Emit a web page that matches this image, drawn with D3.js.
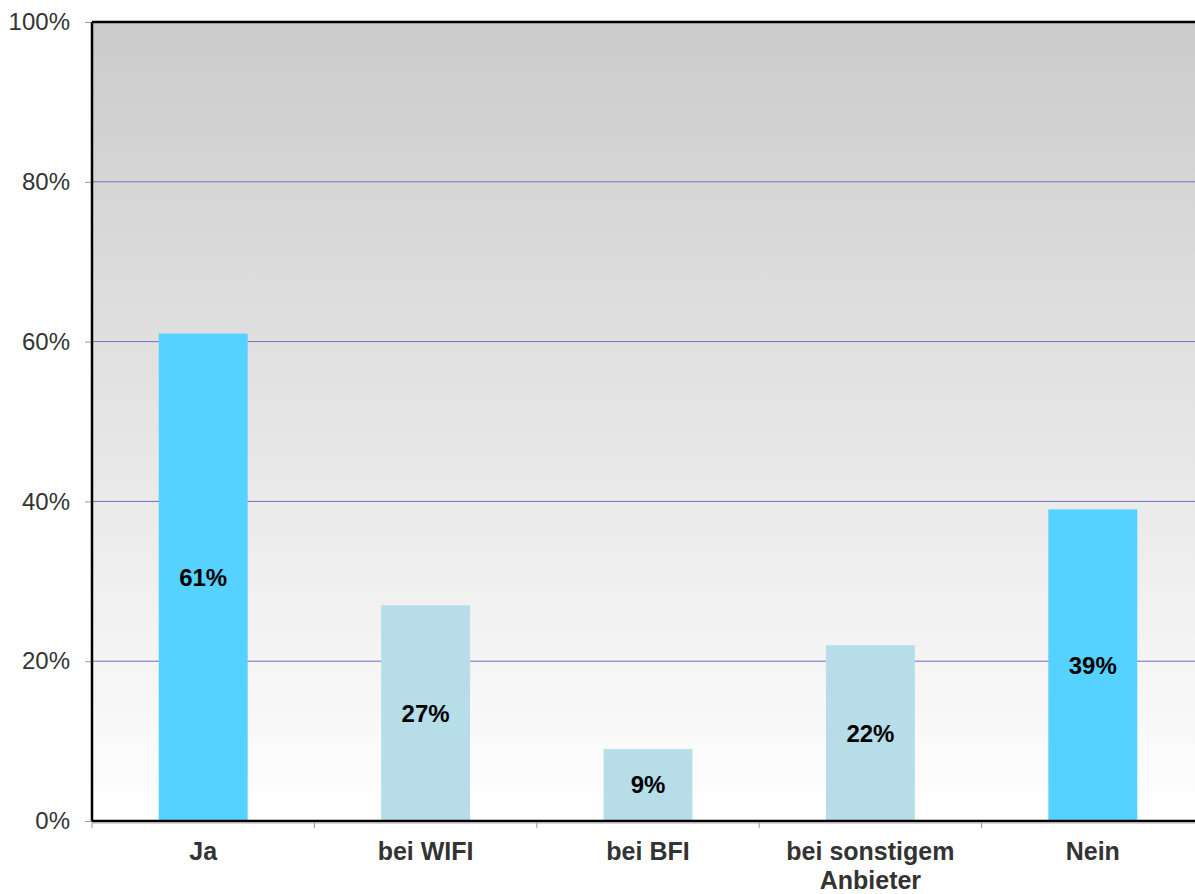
<!DOCTYPE html>
<html><head><meta charset="utf-8">
<script src="https://cdn.jsdelivr.net/npm/d3@7"></script>
<style>body{margin:0;background:#fff;} svg{display:block;font-family:"Liberation Sans",Arial,sans-serif;}</style>
</head><body>
<svg id="c" width="1195" height="894"></svg>
<script>
const categories = ["Ja", "bei WIFI", "bei BFI", "bei sonstigem Anbieter", "Nein"];
const values = [61, 27, 9, 22, 39];
const highlight = [true, false, false, false, true];
const yTicks = [0, 20, 40, 60, 80, 100];

const svg = d3.select("#c");
const L = 92, T = 22, B = 821, W = 1112;
const x = d3.scaleBand().domain(categories).range([L, L + W]).paddingInner(0.6).paddingOuter(0.3);
const xb = d3.scaleBand().domain(categories).range([L, L + W]);
const y = d3.scaleLinear().domain([0, 100]).range([B, T]);

const defs = svg.append("defs");
const g = defs.append("linearGradient").attr("id", "bg").attr("x1", 0).attr("y1", 0).attr("x2", 0).attr("y2", 1);
g.append("stop").attr("offset", "0%").attr("stop-color", "#cbcbcb");
g.append("stop").attr("offset", "100%").attr("stop-color", "#ffffff");
svg.append("rect").attr("x", L).attr("y", T).attr("width", W).attr("height", B - T).attr("fill", "url(#bg)");

// gridlines
svg.append("g").selectAll("line").data(yTicks.filter(d => d > 0 && d < 100)).join("line")
  .attr("x1", L).attr("x2", L + W).attr("y1", d => y(d)).attr("y2", d => y(d))
  .attr("stroke", "#6f6fc0").attr("stroke-width", 1);

// bars
svg.append("g").selectAll("rect").data(categories).join("rect")
  .attr("x", d => x(d)).attr("width", x.bandwidth())
  .attr("y", (d, i) => y(values[i])).attr("height", (d, i) => B - y(values[i]))
  .attr("fill", (d, i) => highlight[i] ? "#55d2ff" : "#b6dde8");

// value labels
svg.append("g").selectAll("text").data(categories).join("text")
  .attr("x", d => x(d) + x.bandwidth() / 2)
  .attr("y", (d, i) => (y(values[i]) + B) / 2)
  .attr("dy", "0.35em").attr("text-anchor", "middle")
  .attr("font-size", 24).attr("font-weight", "bold").attr("fill", "#000")
  .text((d, i) => values[i] + "%");

// y axis
const ya = svg.append("g").attr("transform", `translate(${L},0)`)
  .call(d3.axisLeft(y).tickValues(yTicks).tickFormat(d => d + "%").tickSize(7).tickPadding(15));
ya.select(".domain").remove();
ya.selectAll(".tick line").attr("stroke", "#999");
ya.selectAll(".tick text").attr("font-size", 24).attr("fill", "#333").attr("font-family", "Liberation Sans, Arial, sans-serif");

// x axis ticks
const xa = svg.append("g").attr("transform", `translate(0,${B})`);
xa.selectAll("line").data(categories).join("line")
  .attr("x1", d => xb(d)).attr("x2", d => xb(d)).attr("y1", 0).attr("y2", 7)
  .attr("stroke", "#999");
xa.selectAll("g").data(categories).join("g")
  .each(function (d) {
    const cx = xb(d) + xb.bandwidth() / 2;
    const lines = d === "bei sonstigem Anbieter" ? ["bei sonstigem", "Anbieter"] : [d];
    d3.select(this).selectAll("text").data(lines).join("text")
      .attr("x", cx).attr("y", (s, i) => 39 + i * 29)
      .attr("text-anchor", "middle").attr("font-size", 25).attr("font-weight", "bold").attr("fill", "#333")
      .text(s => s);
  });

// frame lines
svg.append("line").attr("x1", L).attr("x2", L + W).attr("y1", T).attr("y2", T).attr("stroke", "#000").attr("stroke-width", 2.5);
svg.append("line").attr("x1", L).attr("x2", L).attr("y1", T).attr("y2", B).attr("stroke", "#000").attr("stroke-width", 2.5);
svg.append("line").attr("x1", L).attr("x2", L + W).attr("y1", B).attr("y2", B).attr("stroke", "#000").attr("stroke-width", 2.5);
svg.append("line").attr("x1", L).attr("x2", L + W).attr("y1", B + 2).attr("y2", B + 2).attr("stroke", "#aaa").attr("stroke-width", 1);
</script>
</body></html>
